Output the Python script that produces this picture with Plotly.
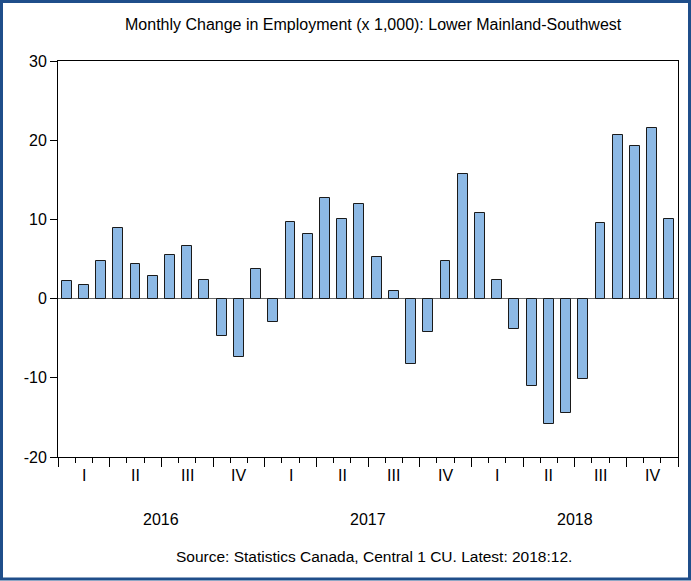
import plotly.graph_objects as go

months = [f"{y}-{m:02d}" for y in (2016, 2017, 2018) for m in range(1, 13)]
values = [2.2, 1.7, 4.8, 8.9, 4.4, 2.9, 5.5, 6.7, 2.3, -4.7, -7.4, 3.7,
          -3.0, 9.7, 8.1, 12.7, 10.1, 11.9, 5.3, 1.0, -8.2, -4.2, 4.8, 15.7,
          10.8, 2.3, -3.9, -11.0, -15.8, -14.4, -10.2, 9.5, 20.6, 19.3, 21.6, 10.1]
quarter_labels = ["I", "II", "III", "IV"]
years = ["2016", "2017", "2018"]
y_ticks = [-20, -10, 0, 10, 20, 30]

W, H = 691, 581
L, R, T, B = 58, 13, 61, 124
pw, ph = W - L - R, H - T - B

def px_x(p):
    return (p - L) / pw

def px_y(p):
    return (H - B - p) / ph

font = "Liberation Sans, Arial, sans-serif"
xs = list(range(len(months)))

fig = go.Figure()
fig.add_trace(go.Bar(
    x=xs, y=values, width=0.58,
    marker=dict(color="#8DB9E5", line=dict(color="#1a1a1a", width=1)),
    hovertext=months, showlegend=False,
))

def ann(x, y, text, xref, size=16):
    return dict(x=x, y=y, xref=xref, yref="paper", text=text, showarrow=False,
                xanchor="center", yanchor="middle",
                font=dict(size=size, color="black", family=font))

annotations = []
for yi, yr in enumerate(years):
    for qi, q in enumerate(quarter_labels):
        annotations.append(ann(yi * 12 + qi * 3 + 1, px_y(475), q, "x"))
    annotations.append(ann(yi * 12 + 5.5, px_y(519), yr, "x"))
annotations.append(ann(px_x(373), px_y(24),
                       "Monthly Change in Employment (x 1,000): Lower Mainland-Southwest", "paper"))
annotations.append(ann(px_x(374), px_y(556),
                       "Source: Statistics Canada, Central 1 CU. Latest: 2018:12.", "paper", 15.5))

fig.update_layout(
    width=W, height=H,
    margin=dict(l=L, r=R, t=T, b=B, pad=0),
    paper_bgcolor="white", plot_bgcolor="white",
    font=dict(family=font, size=16, color="black"),
    bargap=0,
    annotations=annotations,
    shapes=[dict(type="rect", xref="paper", yref="paper",
                 x0=px_x(1.5), x1=px_x(689.5), y0=px_y(579), y1=px_y(1.5),
                 line=dict(color="#1F4E8A", width=3), fillcolor="rgba(0,0,0,0)", layer="above")],
)
fig.update_xaxes(
    range=[-0.5, len(months) - 0.5],
    tickmode="array", tickvals=[i * 3 - 0.5 for i in range(13)], ticktext=[""] * 13,
    ticks="outside", ticklen=9, tickcolor="black", tickwidth=1,
    minor=dict(tick0=-0.5, dtick=1, ticks="outside", ticklen=5, tickcolor="black", tickwidth=1),
    showline=True, mirror=True, linecolor="black", linewidth=1,
    showgrid=False, zeroline=False,
)
fig.update_yaxes(
    range=[-20, 30], tickmode="array", tickvals=y_ticks, ticktext=[str(v) for v in y_ticks],
    ticks="outside", ticklen=7, tickcolor="black",
    showline=True, mirror=True, linecolor="black", linewidth=1,
    showgrid=False, zeroline=True, zerolinecolor="#666666", zerolinewidth=1,
    tickfont=dict(size=16, family=font),
)

fig.write_html("out.html", config={"displayModeBar": False},
               post_script="document.body.style.margin='0';document.body.style.padding='0';")
